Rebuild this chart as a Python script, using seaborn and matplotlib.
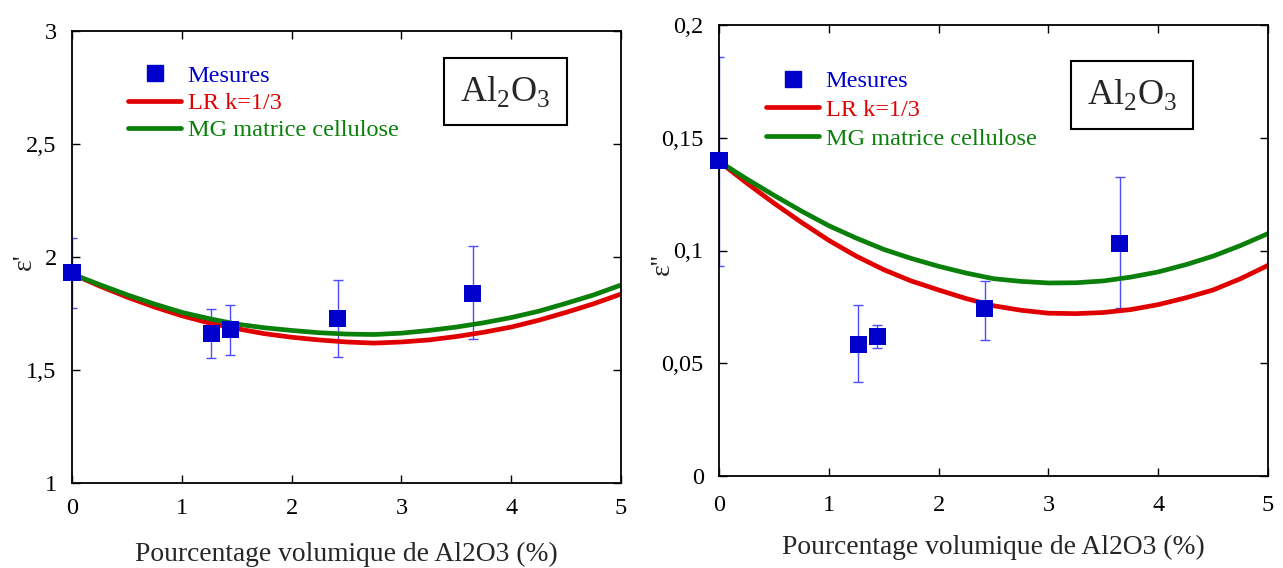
import numpy as np
import pandas as pd
import matplotlib
matplotlib.use("Agg")
import matplotlib.pyplot as plt
from matplotlib.lines import Line2D
import seaborn as sns

# ---------------- data ----------------
x_mes = [0.0, 1.27, 1.44, 2.42, 3.65]

eps1_mes = [1.93, 1.66, 1.68, 1.727, 1.84]
eps1_low = [1.775, 1.553, 1.565, 1.557, 1.638]
eps1_high = [2.084, 1.771, 1.787, 1.899, 2.05]

eps2_mes = [0.1398, 0.0585, 0.0618, 0.0743, 0.1032]
eps2_low = [0.093, 0.0418, 0.0568, 0.0604, 0.0743]
eps2_high = [0.186, 0.0757, 0.0669, 0.0866, 0.1324]

x_model = [0.0, 0.25, 0.5, 0.75, 1.0, 1.25, 1.5, 1.75, 2.0, 2.25, 2.5,
           2.75, 3.0, 3.25, 3.5, 3.75, 4.0, 4.25, 4.5, 4.75, 5.0]
eps1_LR = [1.925, 1.872, 1.823, 1.779, 1.740, 1.708, 1.683, 1.661, 1.645, 1.633, 1.624,
           1.619, 1.624, 1.633, 1.648, 1.667, 1.690, 1.720, 1.755, 1.793, 1.836]
eps1_MG = [1.925, 1.878, 1.833, 1.792, 1.755, 1.727, 1.703, 1.687, 1.675, 1.665, 1.659,
           1.657, 1.663, 1.675, 1.690, 1.709, 1.732, 1.760, 1.795, 1.832, 1.876]
eps2_LR = [0.1395, 0.1300, 0.1210, 0.1125, 0.1045, 0.0975, 0.0915, 0.0865, 0.0825, 0.0787, 0.0755,
           0.0735, 0.0722, 0.0720, 0.0725, 0.0738, 0.0760, 0.0790, 0.0825, 0.0875, 0.0934]
eps2_MG = [0.1395, 0.1318, 0.1245, 0.1175, 0.1110, 0.1055, 0.1005, 0.0965, 0.0930, 0.0900, 0.0875,
           0.0863, 0.0856, 0.0857, 0.0865, 0.0882, 0.0905, 0.0937, 0.0975, 0.1022, 0.1075]

x_ticks = [0, 1, 2, 3, 4, 5]
x_ticklabels = ["0", "1", "2", "3", "4", "5"]
y1_ticks = [1, 1.5, 2, 2.5, 3]
y1_ticklabels = ["1", "1,5", "2", "2,5", "3"]
y2_ticks = [0, 0.05, 0.1, 0.15, 0.2]
y2_ticklabels = ["0", "0,05", "0,1", "0,15", "0,2"]

labels = ["Mesures", "LR k=1/3", "MG matrice cellulose"]
xlabel = "Pourcentage volumique de Al2O3 (%)"

# ---------------- style ----------------
sns.set_theme(style="ticks")
plt.rcParams["font.family"] = ["Liberation Serif", "DejaVu Serif"]
plt.rcParams["mathtext.fontset"] = "custom"
plt.rcParams["mathtext.rm"] = "Liberation Serif"

BLUE = "#0000cc"
ERR = "#4d4dff"
RED = "#e00000"
GREEN = "#0a800a"

fig = plt.figure(figsize=(12.83, 5.68), dpi=100)
ax1 = fig.add_axes([72 / 1283, 85 / 568, 549 / 1283, 452 / 568])
ax2 = fig.add_axes([719 / 1283, 92 / 568, 549 / 1283, 451 / 568])


def panel(ax, ymes, ylow, yhigh, yLR, yMG, yticks, yticklabels, ylim, ylabel,
          ylab_coords, leg_anchor, leg_spacing, box_xy, xpad, xlabpad):
    ymes = np.array(ymes)
    yerr = [ymes - np.array(ylow), np.array(yhigh) - ymes]
    ax.errorbar(x_mes, ymes, yerr=yerr, fmt="none", ecolor=ERR, elinewidth=1.0,
                capsize=3.5, capthick=1.0, zorder=1)
    df = pd.DataFrame({"x": x_model, "LR": yLR, "MG": yMG})
    sns.lineplot(data=df, x="x", y="LR", ax=ax, color=RED, lw=3.4, zorder=2)
    sns.lineplot(data=df, x="x", y="MG", ax=ax, color=GREEN, lw=3.4, zorder=2)
    dm = pd.DataFrame({"x": x_mes, "y": ymes})
    sns.scatterplot(data=dm, x="x", y="y", ax=ax, marker="s", s=150, color=BLUE,
                    edgecolor="none", zorder=4, clip_on=False)

    ax.set_xlim(0, 5)
    ax.set_ylim(*ylim)
    ax.set_xticks(x_ticks)
    ax.set_xticklabels(x_ticklabels)
    ax.set_yticks(yticks)
    ax.set_yticklabels(yticklabels)
    ax.tick_params(direction="in", length=6, width=1, top=True, right=True,
                   labelsize=17.5, colors="black")
    ax.tick_params(axis="x", pad=xpad)
    ax.tick_params(axis="y", pad=11)
    for s in ax.spines.values():
        s.set_visible(True)
        s.set_linewidth(1.3)
        s.set_color("black")
    ax.set_xlabel(xlabel, fontsize=19.8, labelpad=xlabpad)
    ax.set_ylabel(ylabel, fontsize=20)
    ax.yaxis.set_label_coords(*ylab_coords)

    handles = [
        Line2D([], [], ls="none", marker="s", markersize=12, color=BLUE),
        Line2D([], [], color=RED, lw=3.4),
        Line2D([], [], color=GREEN, lw=3.4),
    ]
    leg = ax.legend(handles, labels, loc="upper left", bbox_to_anchor=leg_anchor,
                    frameon=False, fontsize=17.5, handlelength=2.2,
                    handletextpad=0.25, labelspacing=leg_spacing,
                    borderaxespad=0, borderpad=0)
    for t, c in zip(leg.get_texts(), [BLUE, RED, GREEN]):
        t.set_color(c)

    ax.text(box_xy[0], box_xy[1], "Al$_2$O$_3$", transform=ax.transAxes,
            fontsize=26, ha="center", va="center",
            bbox=dict(boxstyle="square,pad=0.45", fc="white", ec="black", lw=1.5))


panel(ax1, eps1_mes, eps1_low, eps1_high, eps1_LR, eps1_MG, y1_ticks, y1_ticklabels,
      (1, 3), "ε'", (-0.064, 0.49), (0.102, 0.925), 0.21, (0.789, 0.866), 11, 16)
panel(ax2, eps2_mes, eps2_low, eps2_high, eps2_LR, eps2_MG, y2_ticks, y2_ticklabels,
      (0, 0.2), "ε''", (-0.081, 0.47), (0.0856, 0.9), 0.28, (0.752, 0.845), 13.5, 14)

fig.savefig("out.png", dpi=100)
